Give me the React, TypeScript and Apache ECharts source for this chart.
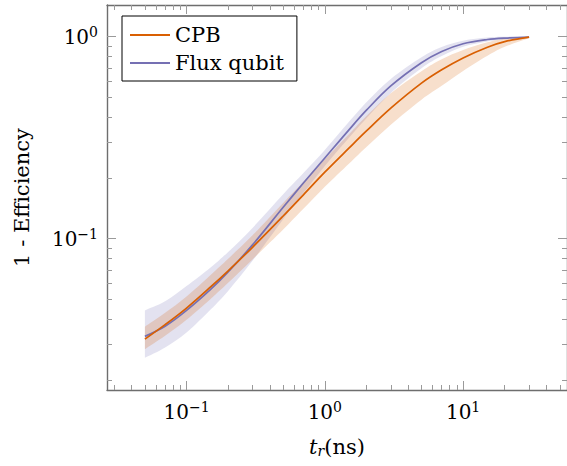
import React, { useEffect, useRef } from 'react';
import * as echarts from 'echarts';

// rise time t_r (ns)
const tr = [0.05, 0.07, 0.1, 0.15, 0.2, 0.3, 0.5, 0.7, 1, 1.5, 2, 3, 5, 7, 10, 15, 20, 30];

const cpbMean = [0.0318, 0.0375, 0.0453, 0.0578, 0.0693, 0.0906, 0.1294, 0.1648, 0.2133, 0.2812, 0.3412, 0.4426, 0.5888, 0.6855, 0.785, 0.887, 0.945, 0.994];
const cpbUpper = [0.0366, 0.0429, 0.0517, 0.0663, 0.0795, 0.1039, 0.1502, 0.1911, 0.2473, 0.3298, 0.4049, 0.525, 0.675, 0.7737, 0.86, 0.939, 0.978, 0.997];
const cpbLower = [0.0283, 0.033, 0.0396, 0.0504, 0.0604, 0.0789, 0.111, 0.1405, 0.1806, 0.2357, 0.2844, 0.3667, 0.4878, 0.5714, 0.677, 0.805, 0.892, 0.983];

const fluxMean = [0.0328, 0.0368, 0.0441, 0.0562, 0.0684, 0.0931, 0.1429, 0.1884, 0.2506, 0.3467, 0.4325, 0.5702, 0.743, 0.8443, 0.9226, 0.968, 0.984, 0.995];
const fluxUpper = [0.0441, 0.0489, 0.0582, 0.0722, 0.0859, 0.113, 0.1658, 0.2112, 0.2746, 0.3797, 0.4739, 0.6176, 0.791, 0.889, 0.955, 0.99, 0.998, 0.999];
const fluxLower = [0.0257, 0.0289, 0.0343, 0.0447, 0.0551, 0.0776, 0.1247, 0.168, 0.2288, 0.3165, 0.3949, 0.5265, 0.698, 0.802, 0.892, 0.946, 0.968, 0.99];

const xMajorTicks = [0.1, 1, 10];
const xMinorTicks = [0.03, 0.04, 0.05, 0.06, 0.07, 0.08, 0.09, 0.2, 0.3, 0.4, 0.5, 0.6, 0.7, 0.8, 0.9, 2, 3, 4, 5, 6, 7, 8, 9, 20, 30, 40, 50];
const yMajorTicks = [0.1, 1];
const yMinorTicks = [0.02, 0.03, 0.04, 0.05, 0.06, 0.07, 0.08, 0.09, 0.2, 0.3, 0.4, 0.5, 0.6, 0.7, 0.8, 0.9];

const X_MIN = 0.0266;
const X_MAX = 56.4;
const Y_MIN = 0.0178;
const Y_MAX = 1.435;

const FONT = 'DejaVu Serif';
const ORANGE = '#d95f02';
const PURPLE = '#7570b3';
const AXIS_COLOR = '#6e6e6e';
const TICK_COLOR = '#9a9a9a';

const powLabel = (v: number) => {
  const e = Math.round(Math.log10(v));
  const s = e < 0 ? '\u2212' + Math.abs(e) : String(e);
  return '{b|10}{s|' + s + '}';
};

const labelRich = {
  b: { fontFamily: FONT, fontSize: 20, color: '#000' },
  s: { fontFamily: FONT, fontSize: 14, color: '#000', padding: [0, 0, 10, 0] },
};

function makeX(position: 'bottom' | 'top', major: boolean, withLabels: boolean) {
  return {
    type: 'log',
    logBase: 10,
    min: X_MIN,
    max: X_MAX,
    position,
    gridIndex: 0,
    axisLine: { show: major, lineStyle: { color: AXIS_COLOR, width: 1.4 } },
    axisTick: {
      show: true,
      inside: true,
      length: major ? 9 : 5,
      customValues: major ? xMajorTicks : xMinorTicks,
      lineStyle: { color: TICK_COLOR, width: 1 },
    },
    axisLabel: withLabels
      ? { show: true, customValues: xMajorTicks, formatter: powLabel, margin: 10, rich: labelRich }
      : { show: false },
    splitLine: { show: false },
    minorTick: { show: false },
    name: withLabels ? '{i|t}{sub|r}{n|(ns)}' : '',
    nameLocation: 'middle',
    nameGap: 45,
    nameTextStyle: {
      rich: {
        i: { fontFamily: FONT, fontSize: 21, fontStyle: 'italic', color: '#000' },
        sub: { fontFamily: FONT, fontSize: 14, fontStyle: 'italic', color: '#000', padding: [9, 0, 0, 0] },
        n: { fontFamily: FONT, fontSize: 21, color: '#000' },
      },
    },
  };
}

function makeY(position: 'left' | 'right', major: boolean, withLabels: boolean) {
  return {
    type: 'log',
    logBase: 10,
    min: Y_MIN,
    max: Y_MAX,
    position,
    gridIndex: 0,
    axisLine: { show: major, lineStyle: { color: AXIS_COLOR, width: 1.4 } },
    axisTick: {
      show: true,
      inside: true,
      length: major ? 9 : 5,
      customValues: major ? yMajorTicks : yMinorTicks,
      lineStyle: { color: TICK_COLOR, width: 1 },
    },
    axisLabel: withLabels
      ? { show: true, customValues: yMajorTicks, formatter: powLabel, margin: 9, rich: labelRich }
      : { show: false },
    splitLine: { show: false },
    minorTick: { show: false },
    name: withLabels ? '1 - Efficiency' : '',
    nameLocation: 'middle',
    nameGap: 75,
    nameTextStyle: { fontFamily: FONT, fontSize: 21, color: '#000' },
  };
}

// Catmull-Rom spline through pixel points, as cubic bezier commands
function splinePath(pts: number[][], moveFirst: boolean) {
  let d = (moveFirst ? 'M' : 'L') + pts[0][0].toFixed(2) + ',' + pts[0][1].toFixed(2);
  for (let i = 0; i < pts.length - 1; i++) {
    const p0 = pts[Math.max(i - 1, 0)];
    const p1 = pts[i];
    const p2 = pts[i + 1];
    const p3 = pts[Math.min(i + 2, pts.length - 1)];
    const c1x = p1[0] + (p2[0] - p0[0]) / 6;
    const c1y = p1[1] + (p2[1] - p0[1]) / 6;
    const c2x = p2[0] - (p3[0] - p1[0]) / 6;
    const c2y = p2[1] - (p3[1] - p1[1]) / 6;
    d += ' C' + c1x.toFixed(2) + ',' + c1y.toFixed(2) + ' ' + c2x.toFixed(2) + ',' + c2y.toFixed(2) + ' ' + p2[0].toFixed(2) + ',' + p2[1].toFixed(2);
  }
  return d;
}

function bandSeries(name: string, upper: number[], lower: number[], color: string, z: number) {
  return {
    type: 'custom',
    name,
    coordinateSystem: 'cartesian2d',
    silent: true,
    z,
    clip: true,
    data: [[tr[0], lower[0]]],
    renderItem: (_params: any, api: any) => {
      const up = tr.map((x, i) => api.coord([x, upper[i]]));
      const lo = tr.map((x, i) => api.coord([x, lower[i]])).reverse();
      const d = splinePath(up, true) + ' ' + splinePath(lo, false) + ' Z';
      return {
        type: 'path',
        shape: { pathData: d },
        style: { fill: color, opacity: 0.2, stroke: 'none' },
      };
    },
  };
}

function lineSeries(name: string, mean: number[], color: string, z: number) {
  return {
    type: 'line',
    name,
    data: tr.map((x, i) => [x, mean[i]]),
    smooth: 0.35,
    showSymbol: false,
    symbol: 'none',
    color,
    lineStyle: { color, width: 1.7 },
    z,
  };
}

export default function App() {
  const ref = useRef<HTMLDivElement>(null);
  useEffect(() => {
    if (!ref.current) return;
    const chart = echarts.init(ref.current, undefined, { renderer: 'svg' });
    chart.setOption({
      animation: false,
      backgroundColor: '#fff',
      textStyle: { fontFamily: FONT },
      grid: { left: 107, right: -5, top: 5, bottom: 76, containLabel: false },
      xAxis: [makeX('bottom', true, true), makeX('bottom', false, false), makeX('top', true, false), makeX('top', false, false)],
      yAxis: [makeY('left', true, true), makeY('left', false, false), makeY('right', true, false), makeY('right', false, false)],
      legend: {
        orient: 'vertical',
        left: 122,
        top: 16,
        data: [
          { name: 'CPB', icon: 'rect' },
          { name: 'Flux qubit', icon: 'rect' },
        ],
        itemWidth: 40,
        itemHeight: 2,
        itemGap: 0,
        padding: [5, 13, 4, 8],
        borderColor: '#000',
        borderWidth: 1,
        backgroundColor: '#fff',
        textStyle: { fontFamily: FONT, fontSize: 21, color: '#000', lineHeight: 28 },
      },
      series: [
        bandSeries('flux-band', fluxUpper, fluxLower, PURPLE, 1),
        bandSeries('cpb-band', cpbUpper, cpbLower, ORANGE, 2),
        lineSeries('Flux qubit', fluxMean, PURPLE, 3),
        lineSeries('CPB', cpbMean, ORANGE, 4),
      ],
    });
    return () => chart.dispose();
  }, []);
  return (
    <div
      ref={ref}
      style={{ position: 'fixed', left: 0, top: 0, width: 567, height: 466, background: '#fff' }}
    />
  );
}
